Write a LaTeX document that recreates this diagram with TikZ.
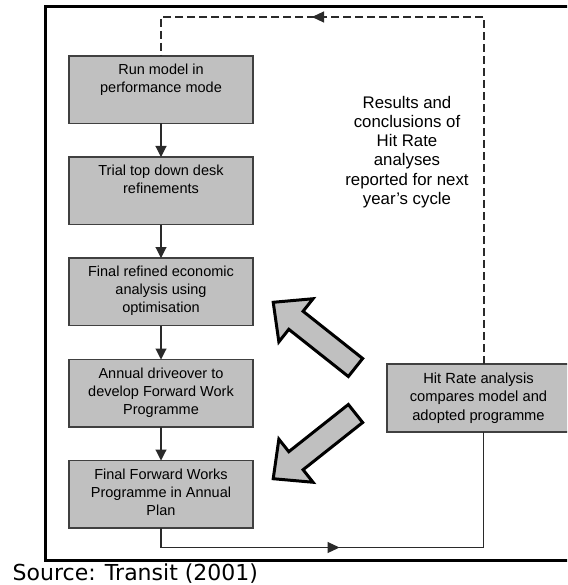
\documentclass[tikz,border=0pt]{standalone}
\usepackage{fontspec}
\setmainfont{Liberation Sans}
\newfontfamily\srcfont{DejaVu Sans}
\usetikzlibrary{arrows.meta,decorations.markings}
\definecolor{boxgray}{HTML}{C0C0C0}
\definecolor{edgegray}{HTML}{404040}
\definecolor{linegray}{HTML}{2A2A2A}
\newcommand{\boxtext}[1]{\begin{minipage}[c][67.5pt][t]{184pt}\centering\vspace*{6pt}\strut#1\end{minipage}}
\begin{document}
\begin{tikzpicture}[x=1pt,y=-1pt,
  stepbox/.style={draw=edgegray, line width=1.1pt, fill=boxgray, anchor=north,
    inner sep=0pt, outer sep=0pt, font=\fontsize{14.5}{18}\selectfont},
  hitbox/.style={draw=edgegray, line width=1.1pt, fill=boxgray, minimum width=183pt,
    minimum height=68pt, inner sep=0pt, outer sep=0pt, align=center,
    font=\fontsize{14.7}{18.5}\selectfont},
  conn/.style={draw=linegray, line width=1.1pt, -{Triangle[length=11pt,width=11pt]}},
  plainline/.style={draw=linegray, line width=1.1pt},
  dashline/.style={draw=linegray, line width=1.1pt, dash pattern=on 8pt off 4pt},
  bigarrow/.style={draw=black, fill=boxgray, line width=3pt, line join=miter},
  frameline/.style={draw=black, line width=3pt}
]
\useasboundingbox (0,0) rectangle (567,585);
\fill[white] (0,0) rectangle (567,585);
\clip (0,0) rectangle (567,585);

% outer frame (right side lies beyond the picture)
\draw[frameline] (620,7) -- (45,7) -- (45,560) -- (620,560);

% left column of steps
\node[stepbox] (b1) at (161,56) {\boxtext{Run model in\\performance mode}};
\node[stepbox] (b2) at (161,157) {\boxtext{Trial top down desk\\refinements}};
\node[stepbox] (b3) at (161,258) {\boxtext{Final refined economic\\analysis using\\optimisation}};
\node[stepbox] (b4) at (161,359.5) {\boxtext{Annual driveover to\\develop Forward Work\\Programme}};
\node[stepbox] (b5) at (161,460.5) {\boxtext{Final Forward Works\\Programme in Annual\\Plan}};

% hit rate box
\node[hitbox] (hit) at (478.5,398) {Hit Rate analysis\\compares model and\\adopted programme};

% note text
\node[align=center, inner sep=0pt, font=\fontsize{16.8}{19.3}\selectfont] (note) at (407,152)
  {Results and\\conclusions of\\Hit Rate\\analyses\\reported for next\\year's cycle};

% step connectors
\draw[conn] (b1) -- (b2);
\draw[conn] (b2) -- (b3);
\draw[conn] (b3) -- (b4);
\draw[conn] (b4) -- (b5);

% corner coordinates
\coordinate (tr) at (484,17);
\coordinate (tl) at (161,17);
\coordinate (br) at (483.5,547.5);
\coordinate (bl) at (161,547.5);

% bottom solid loop with mid arrow
\draw[plainline, postaction={decorate}, decoration={markings,
   mark=at position 198pt with {\arrow{Triangle[length=12pt,width=11pt]}}}]
  (b5.south) -- (bl) -- (br) -- (br |- hit.south);

% top dashed loop with mid arrow
\draw[dashline, postaction={decorate}, decoration={markings,
   mark=at position 519pt with {\arrow{Triangle[length=12pt,width=11pt]}}}]
  (tr |- hit.north) -- (tr) -- (tl) -- (b1.north);

% big block arrows
\begin{scope}[shift={(355.5,367.5)}, rotate=141.6]
  \draw[bigarrow] (0,-11.5) -- (76,-11.5) -- (76,-27.5) -- (105,0) -- (76,27.5) -- (76,11.5) -- (0,11.5) -- cycle;
\end{scope}
\begin{scope}[shift={(355.5,413.5)}, rotate=218.4]
  \draw[bigarrow] (0,-11.5) -- (76,-11.5) -- (76,-27.5) -- (105,0) -- (76,27.5) -- (76,11.5) -- (0,11.5) -- cycle;
\end{scope}

% source
\node[anchor=base west, inner sep=0pt, font=\srcfont\fontsize{22}{26}\selectfont] (src) at (12.5,580) {Source: Transit (2001)};
\end{tikzpicture}
\end{document}
